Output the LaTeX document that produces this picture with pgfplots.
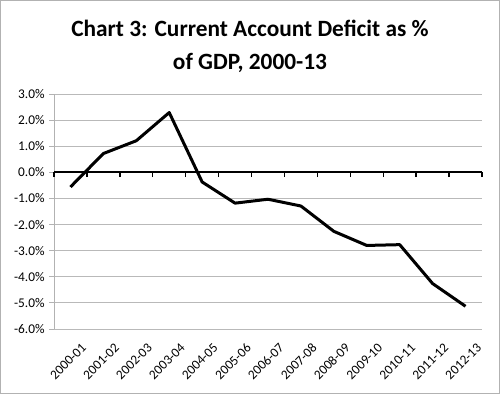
\documentclass[border=0pt]{standalone}
\usepackage{pgfplots}
\pgfplotsset{compat=1.18}
\usepackage{fontspec}
\setmainfont{Carlito}
\begin{document}
\begin{tikzpicture}
\draw[gray!60, line width=0.75pt] (0.375pt,0.375pt) rectangle (374.625pt,295.125pt);
\node[font=\bfseries\fontsize{17.5}{24.75}\selectfont, align=center] at (187.5pt,260.6pt) {Chart 3: Current Account Deficit as \%\\of GDP, 2000-13};
\begin{axis}[
  at={(40.5pt,48.75pt)}, anchor=south west,
  scale only axis, width=321pt, height=176.25pt,
  xmin=-0.5, xmax=12.5, ymin=-6, ymax=3,
  ytick={-6,-5,...,3},
  ymajorgrids, grid style={gray!55, line width=0.75pt},
  axis y line*=left, axis x line*=bottom,
  x axis line style={draw=none},
  y axis line style={gray!60, line width=0.75pt},
  ytick style={gray!60, line width=0.75pt},
  xtick style={draw=none},
  tick align=outside, major tick length=3.5pt,
  xtick={0,...,12},
  xticklabels={2000-01,2001-02,2002-03,2003-04,2004-05,2005-06,2006-07,2007-08,2008-09,2009-10,2010-11,2011-12,2012-13},
  x tick label style={rotate=45, anchor=north east, font=\fontsize{10}{12}\selectfont, yshift=-9pt, xshift=2pt, inner sep=1pt},
  y tick label style={font=\fontsize{10}{12}\selectfont},
  /pgf/number format/assume math mode=true,
  yticklabel={\pgfmathprintnumber[fixed,fixed zerofill,precision=1]{\tick}\%},
]
\addplot[black, line width=2.25pt, line join=round] coordinates {
(0,-0.56) (1,0.72) (2,1.21) (3,2.29) (4,-0.37) (5,-1.18) (6,-1.03)
(7,-1.29) (8,-2.26) (9,-2.80) (10,-2.77) (11,-4.26) (12,-5.13)};
\end{axis}
\begin{axis}[
  at={(40.5pt,48.75pt)}, anchor=south west,
  scale only axis, width=321pt, height=176.25pt,
  xmin=-0.5, xmax=12.5, ymin=-6, ymax=3,
  axis x line*=middle, axis y line=none,
  xtick={-0.5,0.5,...,12.5}, xticklabels={},
  ytick=\empty,
  x axis line style={black, line width=1.5pt},
  xtick style={black, line width=1pt},
  xtick align=outside, major tick length=3.5pt,
]
\end{axis}
\end{tikzpicture}
\end{document}
